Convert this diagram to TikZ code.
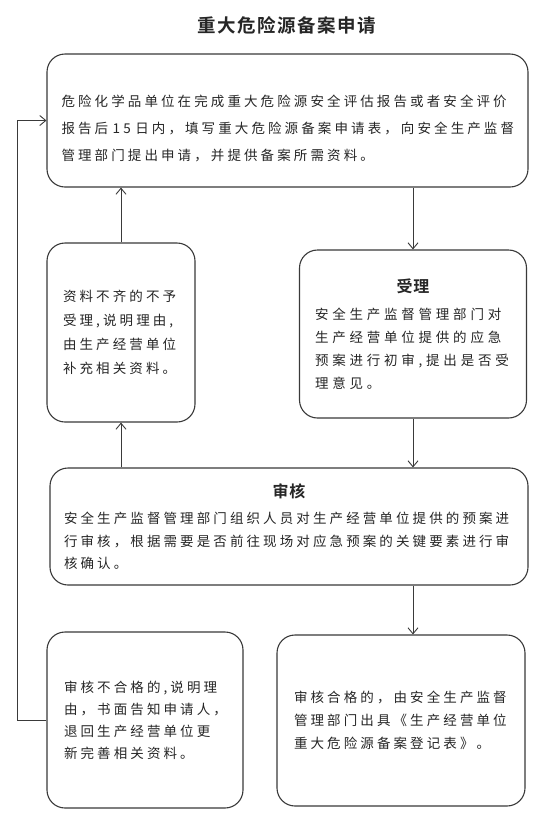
\documentclass[tikz,border=0pt]{standalone}
\usepackage{fontspec}
\setmainfont{Noto Sans CJK SC}[BoldFont={Noto Sans CJK SC Bold},LetterSpace=23]
\usetikzlibrary{arrows.meta}
\definecolor{ink}{HTML}{262626}
\definecolor{frame}{HTML}{3A3A3A}
\tikzset{
  >={Straight Barb[length=6pt,width=10pt]},
  every node/.style={text=ink},
  box/.style={draw=frame,line width=1.1pt,rounded corners=18pt,fill=white,align=left,inner sep=0pt,font=\fontsize{13.5}{24}\selectfont},
  arrow/.style={->,line width=0.9pt,draw=frame},
  heading/.style={font=\fontsize{18.5}{22}\selectfont\bfseries},
}
\newcommand{\stephead}[1]{{\centering\bfseries\fontsize{16}{20}\selectfont\addfontfeature{LetterSpace=5}#1\par}\vspace{4pt}}

\begin{document}
\begin{tikzpicture}[x=1pt,y=-1pt]
  \path[use as bounding box,fill=white] (0,0) rectangle (550,831);
  \node[heading] (title) at (287,25) {\addfontfeature{LetterSpace=8}重大危险源备案申请};

  \node[box,minimum width=481,minimum height=133,text width=452,font=\fontsize{13.5}{27}\selectfont] (apply) at (287.5,120.5) {\rule{0pt}{27pt}危险化学品单位在完成重大危险源安全评估报告或者安全评价\\报告后 15 日内，填写重大危险源备案申请表，向安全生产监督\\管理部门提出申请，并提供备案所需资料。};
  \node[box,minimum width=148,minimum height=179,text width=116] (incomplete) at (121,332.5) {资料不齐的不予\\受理,说明理由,\\由生产经营单位\\补充相关资料。};
  \node[box,minimum width=227,minimum height=168,text width=196,font=\fontsize{13.5}{23}\selectfont\addfontfeature{LetterSpace=28}] (accept) at (413,334) {\stephead{受理}安全生产监督管理部门对\\生产经营单位提供的应急\\预案进行初审,提出是否受\\理意见。};
  \node[box,minimum width=478,minimum height=117,text width=450,font=\fontsize{13.5}{22.5}\selectfont] (review) at (289,526.5) {\stephead{审核}安全生产监督管理部门组织人员对生产经营单位提供的预案进\\行审核，根据需要是否前往现场对应急预案的关键要素进行审\\核确认。};
  \node[box,minimum width=196,minimum height=176,text width=162,font=\fontsize{13.5}{22}\selectfont] (reject) at (145,720) {审核不合格的,说明理\\由，书面告知申请人，\\退回生产经营单位更\\新完善相关资料。};
  \node[box,minimum width=248,minimum height=171,text width=214,font=\fontsize{13.5}{23}\selectfont] (record) at (401,720.5) {审核合格的，由安全生产监督\\管理部门出具《生产经营单位\\重大危险源备案登记表》。};

  \draw[arrow] (apply.south -| accept.north) -- (accept.north);
  \draw[arrow] (accept.south) -- (accept.south |- review.north);
  \draw[arrow] (accept.south |- review.south) -- (accept.south |- record.north);
  \draw[arrow] (incomplete.south |- review.north) -- (incomplete.south);
  \draw[arrow] (incomplete.north) -- (incomplete.north |- apply.south);
  \coordinate (loop) at (17,720);
  \draw[arrow] (reject.west) -- (loop) |- (apply.west);
\end{tikzpicture}
\end{document}
